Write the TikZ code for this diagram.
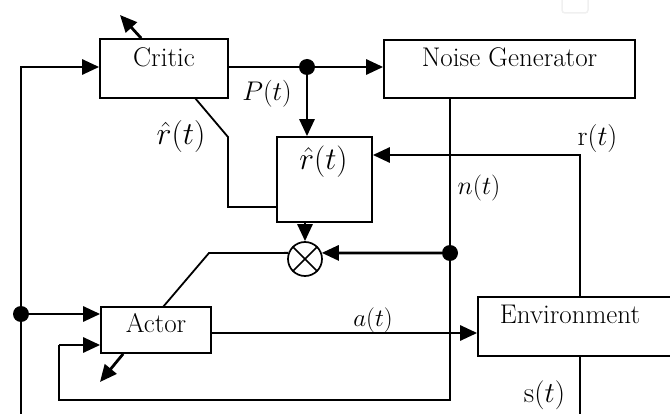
\RequirePackage{fix-cm}
\documentclass[tikz,border=0pt]{standalone}
\usetikzlibrary{arrows.meta,calc}
\begin{document}
\begin{tikzpicture}[x=1pt,y=-1pt,
  block/.style={draw, rectangle, line width=1.7pt, inner sep=0pt},
  thickline/.style={line width=2.8pt},
  thinline/.style={line width=1.8pt},
  arr/.style={-{Triangle[length=17pt,width=15pt]}},
  dot/.style={circle, fill, inner sep=0pt, minimum size=16pt},
  txt/.style={inner sep=0pt, font=\fontsize{27}{31}\selectfont},
  lbl/.style={inner sep=0pt},
]
\useasboundingbox (0,0) rectangle (670,414);
\clip (0,0) rectangle (670,414);

% faint mark in the upper right corner
\draw[black!6, line width=1.5pt, rounded corners=3pt] (562,-5) rectangle (588,13);

% blocks
\node[block, minimum width=128pt, minimum height=59pt] (critic) at (164,68.5) {};
\node[block, minimum width=251pt, minimum height=58pt] (ng) at (509.5,69) {};
\node[block, minimum width=95pt, minimum height=85pt] (rbox) at (324.5,179.5) {};
\node[block, minimum width=110pt, minimum height=46pt] (actor) at (156,330) {};
\node[block, minimum width=204pt, minimum height=59pt] (env) at (580,326.5) {};
\node[draw, circle, line width=1.7pt, minimum size=34pt, inner sep=0pt] (mul) at (305,259) {};
\draw[line width=1.5pt] (mul.north west) -- (mul.south east) (mul.north east) -- (mul.south west);

% block texts
\node[txt, anchor=base] (critictxt) at (164,67) {Critic};
\node[txt, anchor=base] (ngtxt) at (509.5,67) {Noise Generator};
\node[txt, anchor=base] (actortxt) at (156,333) {Actor};
\node[txt, anchor=base] (envtxt) at (570,324) {Environment};

% junction dots
\node[dot] (d1) at (307,67) {};
\node[dot] (d2) at (21,314) {};
\node[dot] (d3) at (450,253) {};

% helper points
\coordinate (lb) at (21,420);
\coordinate (lt) at (21,67);
\coordinate (cd) at (195,98);
\coordinate (ck1) at (228,137);
\coordinate (ck2) at (228,207);
\coordinate (fb1) at (450,400);
\coordinate (fb2) at (59,400);
\coordinate (fb3) at (59,345);
\coordinate (mk) at (209,253);
\coordinate (atop) at (163,307);
\coordinate (ya) at (0,333);
\coordinate (rk) at (580,155);
\coordinate (sb) at (580,420);
\coordinate (cup) at (120,15);
\coordinate (adn) at (100,382);

% state line feeding the critic and the actor
\draw[thickline, arr] (lb) -- (lt) -- (lt -| critic.west);
\draw[thickline, arr] (d2) -- (d2 -| actor.west);

% critic output P(t)
\draw[thickline] (critic.east |- d1) -- (d1);
\draw[thickline, arr] (d1) -- (d1 -| ng.west);
\draw[thickline, arr] (d1) -- (d1 |- rbox.north);

% critic estimate r-hat
\draw[thinline] (cd) -- (ck1) -- (ck2) -- (ck2 -| rbox.west);

% noise line and feedback to actor
\draw[thinline] (d3 |- ng.south) -- (fb1) -- (fb2) -- (fb3);
\draw[thickline, arr] (fb3) -- (fb3 -| actor.west);
\draw[thickline, arr] (d3) -- (mul.20);

% r-hat block into the multiplier
\draw[thickline, arr] (mul |- rbox.south) -- (mul.north);

% multiplier to actor
\draw[thinline] (mul.160) -- (mk) -- (atop);

% action a(t)
\draw[thickline, arr] (actor.east |- ya) -- (env.west |- ya);

% reward r(t)
\draw[thickline, arr] (env.north -| rk) -- (rk) -- (rk -| rbox.east);

% state s(t)
\draw[thinline] (env.south -| sb) -- (sb);

% update arrows
\draw[thickline, arr] ($(critic.north west)+(42,0)$) -- (cup);
\draw[thickline, arr] ($(actor.south west)+(23,0)$) -- (adn);

% signal labels
\node[lbl, font=\fontsize{27}{31}\selectfont] (lp) at (267,94) {$P(t)$};
\node[lbl, font=\fontsize{32}{36}\selectfont] (lr1) at (181,136.5) {$\hat{r}(t)$};
\node[lbl, font=\fontsize{31.5}{35}\selectfont] (lr2) at (323.5,162) {$\hat{r}(t)$};
\node[lbl, font=\fontsize{26}{30}\selectfont] (ln) at (479,188.5) {$n(t)$};
\node[lbl, font=\fontsize{25}{29}\selectfont] (la) at (373,320) {$a(t)$};
\node[lbl, font=\fontsize{28}{32}\selectfont] (lrr) at (597.5,139) {$\mathrm{r}(t)$};
\node[lbl, font=\fontsize{29}{33}\selectfont] (ls) at (544.5,395.5) {$\mathrm{s}(t)$};
\end{tikzpicture}
\end{document}
